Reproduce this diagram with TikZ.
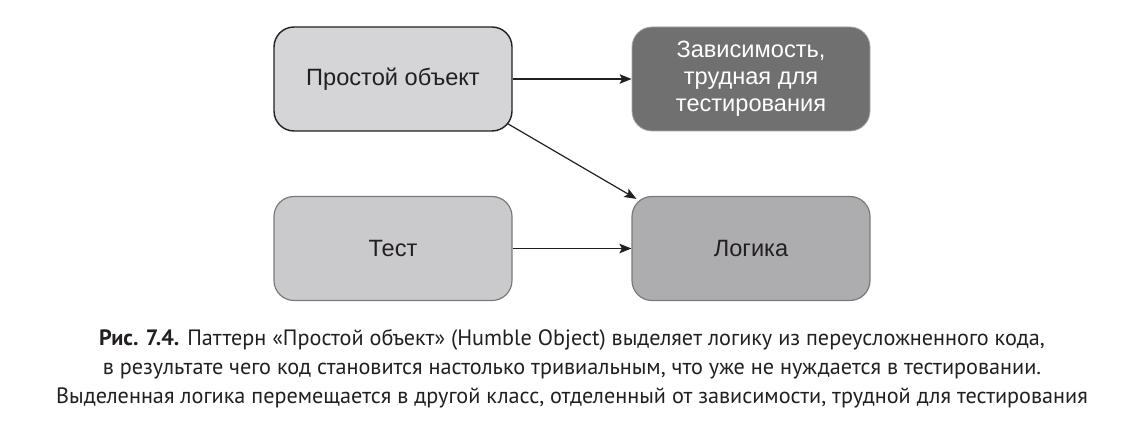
\documentclass[tikz,border=0pt]{standalone}
\usepackage{fontspec}
\setmainfont{Liberation Sans}
\newfontfamily\capfont{PT Sans}
\usetikzlibrary{arrows.meta}
\definecolor{inkdark}{HTML}{231F20}
\definecolor{fillsimple}{HTML}{D5D5D7}
\definecolor{filldep}{HTML}{707070}
\definecolor{filltest}{HTML}{CACACC}
\definecolor{filllogic}{HTML}{ADADAF}
\definecolor{edgegray}{HTML}{7A7A7A}
\tikzset{
  box/.style={rounded corners=20pt, minimum width=238pt, minimum height=104pt,
    align=center, font=\fontsize{23.6pt}{27pt}\selectfont, text=inkdark, line width=1.2pt},
  link/.style={draw=inkdark, line width=1.2pt, -{Stealth[length=12pt,width=9.5pt,inset=2.5pt]}},
  capline/.style={font=\capfont\fontsize{22.2pt}{26pt}\selectfont, text=inkdark, anchor=base}
}
\begin{document}
\begin{tikzpicture}[x=1pt,y=-1pt]
  \useasboundingbox (0,0) rectangle (1144,430);
  % the four boxes
  \node[box, fill=fillsimple, draw=inkdark, line width=1.4pt] (simple) at (393,79) {Простой объект};
  \node[box, fill=filldep, draw=gray!70, line width=0.8pt, text=white] (dep) at (751,79)
    {Зависимость,\\трудная для\\тестирования};
  \node[box, fill=filltest, draw=edgegray] (test) at (393,248.5) {Тест};
  \node[box, fill=filllogic, draw=edgegray] (logic) at (751,248.5) {Логика};
  % connectors
  \draw[link] (simple.east) -- (dep.west);
  \draw[link] ([shift={(-5,-8)}]simple.south east) -- ([shift={(5,3)}]logic.north west);
  \draw[link] (test.east) -- (logic.west);
  % caption
  \node[capline] (cap1) at (572,346) {\textbf{Рис. 7.4.} Паттерн «Простой объект» (Humble Object) выделяет логику из переусложненного кода,};
  \node[capline] (cap2) at (572,375) {в результате чего код становится настолько тривиальным, что уже не нуждается в тестировании.};
  \node[capline] (cap3) at (572,404) {Выделенная логика перемещается в другой класс, отделенный от зависимости, трудной для тестирования};
\end{tikzpicture}
\end{document}
